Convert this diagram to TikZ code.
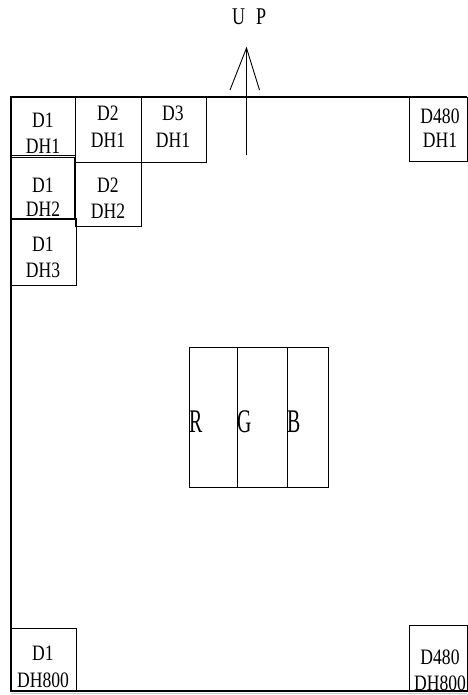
\documentclass[tikz,border=0pt]{standalone}
\usepackage{fontspec}
\setmainfont[FakeStretch=0.8]{Liberation Serif}
\newfontfamily\rgbfont[FakeStretch=0.6]{Liberation Serif}
\newfontfamily\upfont[FakeStretch=0.75]{Liberation Serif}
\begin{document}
\begin{tikzpicture}[x=1pt,y=-1pt,
  cell/.style={draw=black,line width=0.9pt,anchor=north west,inner sep=0pt,outer sep=0pt},
  txt/.style={inner sep=0pt,font=\fontsize{22}{24}\selectfont},
  rgbtxt/.style={inner sep=0pt,anchor=west,font=\rgbfont\fontsize{33}{36}\selectfont},
  frame/.style={line width=1.1pt,black}]
\useasboundingbox (0,0) rectangle (467,695);
% frame
\coordinate (tl) at (11,97);
\coordinate (tr) at (467,97);
\coordinate (bl) at (11,691);
\coordinate (br) at (467,691);
\draw[frame] (tr) -- (tl) -- (bl) -- (br);
\draw[gray!40,line width=0.8pt] (11,693.5) -- (467,693.5);
% cells
\node[cell,minimum width=64pt,minimum height=58pt] (c11) at (11,97) {};
\node[cell,minimum width=66pt,minimum height=65pt] (c21) at (75,97) {};
\node[cell,minimum width=65pt,minimum height=65pt] (c31) at (141,97) {};
\node[cell,minimum width=58pt,minimum height=64pt] (c481) at (409,97) {};
\node[cell,minimum width=63pt,minimum height=62pt] (c12) at (11,157) {};
\node[cell,minimum width=66pt,minimum height=64pt] (c22) at (75,162) {};
\node[cell,minimum width=65pt,minimum height=67pt] (c13) at (11,218) {};
\node[cell,minimum width=65pt,minimum height=63pt] (c1800) at (11,628) {};
\node[cell,minimum width=58pt,minimum height=66pt] (c480800) at (409,625) {};
% labels
\node[txt] (t11a) at (43,120) {D1};
\node[txt] (t11b) at (43,146) {DH1};
\node[txt] (t21a) at (108,113) {D2};
\node[txt] (t21b) at (108,140) {DH1};
\node[txt] (t31a) at (173,113) {D3};
\node[txt] (t31b) at (173,140) {DH1};
\node[txt] (t481a) at (440,116) {D480};
\node[txt] (t481b) at (440,140) {DH1};
\node[txt] (t12a) at (43,185) {D1};
\node[txt] (t12b) at (43,209) {DH2};
\node[txt] (t22a) at (108,185) {D2};
\node[txt] (t22b) at (108,211) {DH2};
\node[txt] (t13a) at (43,244) {D1};
\node[txt] (t13b) at (43,270) {DH3};
\node[txt] (t1800a) at (43,653) {D1};
\node[txt] (t1800b) at (43,680) {DH800};
\node[txt] (t480800a) at (440,657) {D480};
\node[txt] (t480800b) at (440,683) {DH800};
% RGB
\node[cell,minimum width=48pt,minimum height=140pt] (r) at (189,347) {};
\node[cell,minimum width=50pt,minimum height=140pt] (g) at (237,347) {};
\node[cell,minimum width=41pt,minimum height=140pt] (b) at (287,347) {};
\node[rgbtxt] (tr1) at ([yshift=-5pt]r.west) {R};
\node[rgbtxt] (tg1) at ([yshift=-5pt]g.west) {G};
\node[rgbtxt] (tb1) at ([yshift=-5pt]b.west) {B};
% UP arrow
\coordinate (apex) at (246.5,48);
\coordinate (base) at (246.5,155);
\coordinate (la) at (230,90);
\coordinate (ra) at (259.5,90);
\draw[line width=0.9pt] (base) -- (apex);
\draw[line width=0.9pt] (la) -- (apex) -- (ra);
\node[inner sep=0pt,anchor=west,font=\upfont\fontsize{24}{26}\selectfont] (up) at (232,17) {U\hspace{11pt}P};
\end{tikzpicture}
\end{document}
